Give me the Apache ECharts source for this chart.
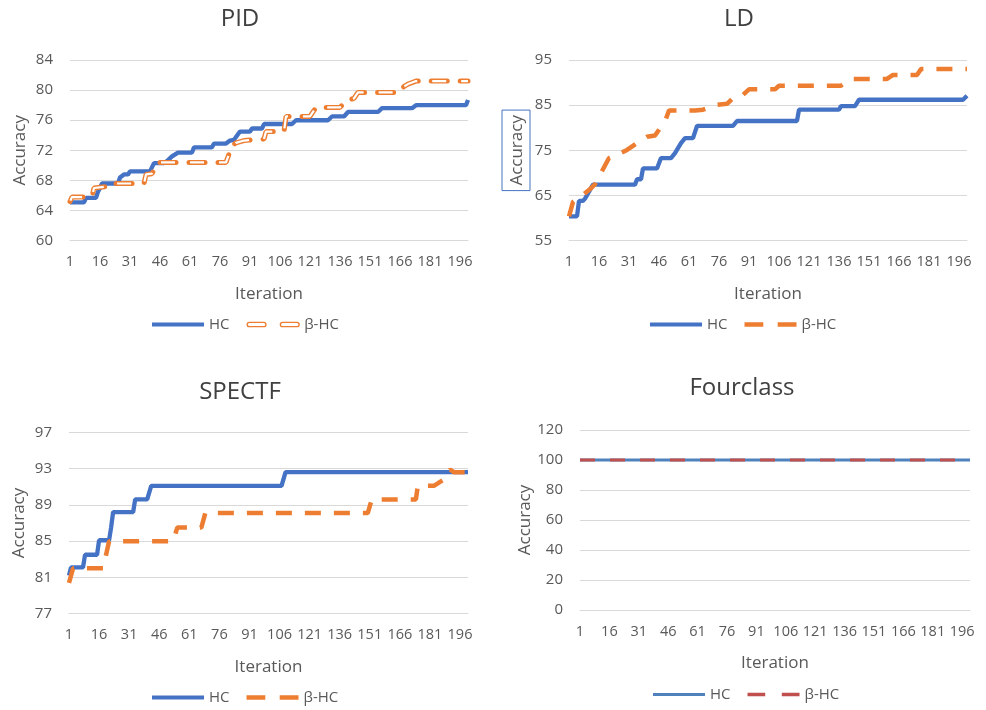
<!DOCTYPE html>
<html>
<head>
<meta charset="utf-8">
<script src="https://cdn.jsdelivr.net/npm/echarts@6/dist/echarts.min.js"></script>
<style>
  html, body { margin: 0; padding: 0; background: #fff; }
  #chart { width: 986px; height: 710px; }
</style>
</head>
<body>
<div id="chart"></div>
<script>
// iteration labels 1..200
const iterations = [];
for (let i = 1; i <= 200; i++) iterations.push(String(i));

// [iteration, accuracy] at the points where the curves change
const pidHC = [[1,65.1],[8,65.1],[9,65.7],[14,65.7],[15,66.5],[16,67.0],[17,67.6],[25,67.6],[26,68.4],[28,68.8],[30,68.8],[31,69.2],[41,69.2],[43,70.3],[48,70.3],[50,70.7],[52,71.2],[55,71.7],[62,71.7],[63,72.4],[72,72.4],[73,72.9],[79,72.9],[81,73.3],[83,73.4],[86,74.5],[91,74.5],[92,74.9],[97,74.9],[98,75.5],[112,75.5],[114,76.0],[130,76.0],[132,76.5],[138,76.5],[140,77.1],[155,77.1],[157,77.6],[172,77.6],[174,78.0],[199,78.0],[200,78.7]];
const pidBHC = [[1,65.2],[2,65.8],[12,65.8],[13,67.0],[20,67.2],[21,67.6],[38,67.6],[39,68.8],[42,68.9],[44,69.9],[45,70.4],[79,70.4],[82,72.6],[84,73.0],[88,73.3],[89,73.5],[98,73.5],[99,74.5],[108,74.5],[109,76.5],[121,76.5],[123,77.3],[124,77.7],[136,77.7],[137,78.0],[139,78.6],[143,78.9],[145,79.7],[166,79.7],[168,80.5],[170,80.8],[174,81.2],[200,81.2]];

const ldHC = [[1,60.4],[5,60.4],[6,63.8],[8,63.8],[9,64.3],[13,67.4],[34,67.4],[35,68.6],[37,68.6],[38,71.0],[45,71.0],[47,73.3],[52,73.3],[54,74.4],[57,76.6],[59,77.7],[63,77.7],[65,80.4],[83,80.4],[85,81.5],[115,81.5],[116,84.0],[136,84.0],[137,84.8],[144,84.8],[146,86.2],[198,86.2],[200,87.1]];
const ldBHC = [[1,60.4],[3,63.6],[7,64.8],[12,66.6],[14,67.5],[17,70.0],[21,73.3],[25,74.0],[30,75.1],[35,76.6],[40,78.0],[44,78.3],[49,81.4],[51,83.8],[64,83.8],[68,84.0],[75,85.1],[80,85.3],[84,87.0],[88,87.3],[91,88.5],[104,88.5],[106,89.3],[137,89.3],[142,90.8],[160,90.8],[163,91.7],[175,91.7],[177,93.0],[200,93.0]];

const spectfHC = [[1,81.2],[2,82.1],[8,82.1],[9,83.5],[15,83.5],[16,85.1],[21,85.1],[22,86.5],[23,88.2],[33,88.2],[34,89.6],[40,89.6],[42,91.1],[107,91.1],[109,92.6],[200,92.6]];
const spectfBHC = [[1,80.4],[3,82.0],[18,82.0],[21,85.0],[53,85.0],[55,86.5],[67,86.5],[69,88.1],[150,88.1],[152,89.6],[174,89.6],[175,91.1],[183,91.1],[188,91.8],[191,92.9],[193,92.6],[200,92.6]];

const fourHC = [[1,100],[200,100]];
const fourBHC = [[1,100],[200,100]];

// y tick labels
const pidTicks = [60,64,68,72,76,80,84];
const ldTicks = [55,65,75,85,95];
const spectfTicks = [77,81,85,89,93,97];
const fourTicks = [0,20,40,60,80,100,120];

const FONT = 'Open Sans';
const LABEL = '#595959';

const SOLID_ICON = 'path://M0,0h52v4h-52z';
const DASH_ICON = 'path://M0,0h17v4h-17z M30,0h17v4h-17z';
const THIN_SOLID_ICON = 'path://M0,0h52v3h-52z';
const THIN_DASH_ICON = 'path://M0,0h16v3h-16z M31,0h16v3h-16z';
const HOLLOW_ICON = 'path://M2,0h13a2,2 0 0 1 0,4h-13a2,2 0 0 1 0,-4z M32,0h13a2,2 0 0 1 0,4h-13a2,2 0 0 1 0,-4z';

function pts(list) {
  return list.map(p => [String(p[0]), p[1]]);
}

const panels = [
  { title: 'PID', tx: 240, ty: 7, grid: { left: 70, top: 60, width: 398, height: 180.7 }, ticks: pidTicks, legend: { left: 152, top: 317 } },
  { title: 'LD', tx: 739, ty: 7, grid: { left: 569, top: 60, width: 398, height: 180.7 }, ticks: ldTicks, legend: { left: 650, top: 317 }, boxed: true },
  { title: 'SPECTF', tx: 240, ty: 380, grid: { left: 69, top: 432.3, width: 399, height: 181.4 }, ticks: spectfTicks, legend: { left: 152, top: 690 } },
  { title: 'Fourclass', tx: 742, ty: 376, grid: { left: 580, top: 430, width: 390, height: 180 }, ticks: fourTicks, legend: { left: 653, top: 687 } }
];

const keys = ['pid', 'ld', 'spectf', 'four'];

function legendItems(i) {
  if (i === 0) {
    return [
      { name: 'pid|HC', icon: SOLID_ICON },
      { name: 'pid|β-HC', icon: HOLLOW_ICON,
        itemStyle: { color: '#ffffff', borderColor: '#ED7D31', borderWidth: 1.3 } }
    ];
  }
  if (i === 3) {
    return [
      { name: 'four|HC', icon: THIN_SOLID_ICON },
      { name: 'four|β-HC', icon: THIN_DASH_ICON }
    ];
  }
  return [
    { name: keys[i] + '|HC', icon: SOLID_ICON },
    { name: keys[i] + '|β-HC', icon: DASH_ICON }
  ];
}

const option = {
  animation: false,
  backgroundColor: '#fff',
  textStyle: { fontFamily: FONT },
  title: panels.map(p => ({
    text: p.title, left: p.tx, top: p.ty, textAlign: 'center', padding: 0,
    textStyle: { fontFamily: FONT, fontSize: 24, fontWeight: 'normal', color: '#404040' }
  })),
  grid: panels.map(p => p.grid),
  xAxis: panels.map((p, i) => ({
    type: 'category', gridIndex: i, data: iterations, boundaryGap: false,
    name: 'Iteration', nameLocation: 'middle', nameGap: 45,
    nameTextStyle: { fontFamily: FONT, fontSize: 17, color: LABEL },
    axisLine: { lineStyle: { color: '#D9D9D9', width: 1 } },
    axisTick: { show: false },
    axisLabel: { interval: 14, margin: 14, fontFamily: FONT, fontSize: 14.5, color: LABEL }
  })),
  yAxis: panels.map((p, i) => ({
    type: 'value', gridIndex: i,
    min: p.ticks[0], max: p.ticks[p.ticks.length - 1],
    name: 'Accuracy', nameLocation: 'middle', nameGap: p.boxed ? 39 : 41,
    nameTextStyle: p.boxed
      ? { fontFamily: FONT, fontSize: 17, color: LABEL, borderColor: '#4472C4', borderWidth: 1, padding: [7, 5, 4, 5] }
      : { fontFamily: FONT, fontSize: 17, color: LABEL },
    axisLine: { show: false },
    axisTick: { show: false, customValues: p.ticks },
    axisLabel: { customValues: p.ticks, margin: 17, fontFamily: FONT, fontSize: 15, color: LABEL },
    splitLine: { lineStyle: { color: '#D9D9D9', width: 1 } }
  })),
  legend: panels.map((p, i) => ({
    left: p.legend.left, top: p.legend.top, orient: 'horizontal', padding: 0,
    itemWidth: 52, itemHeight: 14, itemGap: 17,
    textStyle: { fontFamily: FONT, fontSize: 15, color: LABEL },
    formatter: n => n.split('|')[1],
    selectedMode: false,
    data: legendItems(i)
  })),
  series: [
    // PID
    { name: 'pid|HC', type: 'line', xAxisIndex: 0, yAxisIndex: 0, symbol: 'none', data: pts(pidHC),
      lineStyle: { color: '#4472C4', width: 4.3 }, itemStyle: { color: '#4472C4' } },
    { name: 'pid|β-HC', type: 'line', xAxisIndex: 0, yAxisIndex: 0, symbol: 'none', data: pts(pidBHC),
      lineStyle: { color: '#ED7D31', width: 5, type: [16, 13], cap: 'round' }, itemStyle: { color: '#ED7D31' } },
    { name: 'pid|inner', type: 'line', xAxisIndex: 0, yAxisIndex: 0, symbol: 'none', silent: true, data: pts(pidBHC),
      lineStyle: { color: '#ffffff', width: 2.2, type: [14, 15], dashOffset: -1 }, itemStyle: { color: '#ffffff' } },
    // LD
    { name: 'ld|HC', type: 'line', xAxisIndex: 1, yAxisIndex: 1, symbol: 'none', data: pts(ldHC),
      lineStyle: { color: '#4472C4', width: 4.3 }, itemStyle: { color: '#4472C4' } },
    { name: 'ld|β-HC', type: 'line', xAxisIndex: 1, yAxisIndex: 1, symbol: 'none', data: pts(ldBHC),
      lineStyle: { color: '#ED7D31', width: 4.5, type: [16, 13] }, itemStyle: { color: '#ED7D31' } },
    // SPECTF (HC drawn over β-HC at the end)
    { name: 'spectf|HC', type: 'line', xAxisIndex: 2, yAxisIndex: 2, symbol: 'none', z: 3, data: pts(spectfHC),
      lineStyle: { color: '#4472C4', width: 4.3 }, itemStyle: { color: '#4472C4' } },
    { name: 'spectf|β-HC', type: 'line', xAxisIndex: 2, yAxisIndex: 2, symbol: 'none', data: pts(spectfBHC),
      lineStyle: { color: '#ED7D31', width: 4.5, type: [16, 13] }, itemStyle: { color: '#ED7D31' } },
    // Fourclass
    { name: 'four|HC', type: 'line', xAxisIndex: 3, yAxisIndex: 3, symbol: 'none', data: pts(fourHC),
      lineStyle: { color: '#4F81BD', width: 3 }, itemStyle: { color: '#4F81BD' } },
    { name: 'four|β-HC', type: 'line', xAxisIndex: 3, yAxisIndex: 3, symbol: 'none', data: pts(fourBHC),
      lineStyle: { color: '#C0504D', width: 3, type: [15, 15] }, itemStyle: { color: '#C0504D' } }
  ]
};

const myChart = echarts.init(document.getElementById('chart'));
myChart.setOption(option);
</script>
</body>
</html>
